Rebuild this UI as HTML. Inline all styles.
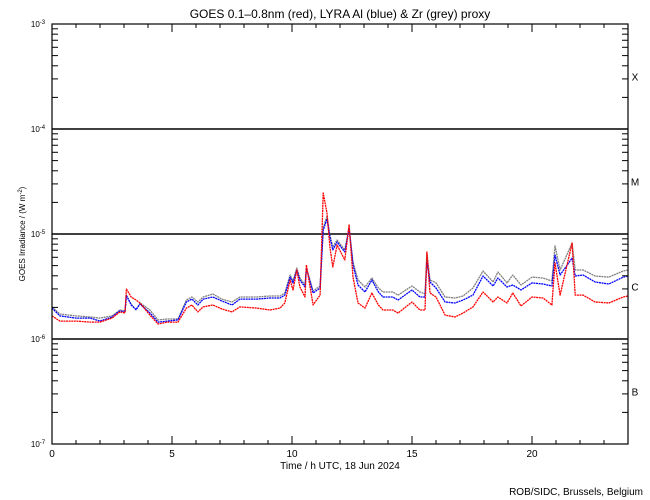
<!DOCTYPE html>
<html><head><meta charset="utf-8"><style>
body{margin:0;background:#fff;}
svg{display:block;font-family:"Liberation Sans",sans-serif;}
</style></head><body>
<svg id="chart" width="650" height="500" viewBox="0 0 650 500" xmlns="http://www.w3.org/2000/svg">
<rect width="650" height="500" fill="#fff"/>
<text x="340" y="18" text-anchor="middle" font-size="12">GOES 0.1–0.8nm (red), LYRA Al (blue) &amp; Zr (grey) proxy</text>
<g id="grid"></g>
<g id="series"></g>
<g id="axes"></g>
<text transform="translate(25,234) rotate(-90)" text-anchor="middle" font-size="8">GOES Irradiance / (W m<tspan dy="-3" font-size="6">-2</tspan><tspan dy="3">)</tspan></text>
<text x="340" y="469" text-anchor="middle" font-size="10">Time / h UTC, 18 Jun 2024</text>
<text x="643" y="495" text-anchor="end" font-size="10">ROB/SIDC, Brussels, Belgium</text>
</svg>
<script>
const hours = [0,0.33,1,1.6,2,2.5,2.83,3.04,3.1,3.3,3.5,3.67,4.08,4.42,4.8,5.25,5.6,5.83,6.08,6.3,6.7,7.08,7.5,7.83,8.54,9.08,9.5,9.7,9.92,10.04,10.2,10.33,10.54,10.6,10.88,11.17,11.3,11.46,11.58,11.7,11.88,12.2,12.38,12.54,12.75,13.04,13.33,13.6,13.79,14.2,14.42,15,15.33,15.54,15.62,15.75,16,16.38,16.79,17.13,17.54,17.96,18.38,18.58,18.96,19.2,19.54,20,20.46,20.83,20.96,21.17,21.67,21.8,22.13,22.63,23.2,23.8,24];
// flux in units of 1e-6 W/m^2
const goesRed = [1.66,1.48,1.48,1.45,1.45,1.58,1.81,1.77,2.99,2.51,2.35,2.20,1.69,1.39,1.45,1.45,1.97,2.11,1.81,2.02,2.11,1.93,1.81,2.02,1.97,1.89,1.97,2.20,3.65,2.93,4.54,3.13,2.51,5.07,2.11,2.62,24.6,15.8,7.52,4.85,7.86,5.65,12.2,3.89,2.20,1.97,2.74,2.11,1.89,1.89,1.77,2.25,1.89,1.89,6.74,2.74,2.51,1.69,1.62,1.77,2.02,2.80,2.25,2.51,2.20,2.74,2.06,2.51,2.46,2.11,5.29,2.62,8.21,2.62,2.62,2.25,2.20,2.51,2.57];
const lyraAl = [1.97,1.66,1.58,1.58,1.48,1.62,1.85,1.81,2.6,2.11,1.9,2.15,1.77,1.45,1.48,1.52,2.25,2.40,2.11,2.40,2.51,2.30,2.11,2.40,2.40,2.46,2.46,2.62,3.89,3.42,4.54,3.65,3.13,4.74,2.74,3.06,10.9,13.9,9.37,7.05,8.4,6.74,11.4,5.07,3.27,2.80,3.65,2.80,2.51,2.51,2.35,2.93,2.51,2.51,5.41,3.49,3.06,2.25,2.20,2.35,2.62,3.98,3.20,3.81,3.13,3.27,2.93,3.42,3.34,3.20,6.31,4.07,5.9,3.98,4.07,3.49,3.34,3.89,3.98];
const lyraZr = [2.02,1.73,1.66,1.62,1.58,1.66,1.89,1.85,2.6,2.15,1.9,2.20,1.89,1.52,1.55,1.55,2.35,2.51,2.25,2.51,2.68,2.40,2.25,2.51,2.51,2.57,2.57,2.74,4.07,3.57,4.74,3.81,3.27,4.74,2.87,3.20,11.4,14.8,9.8,7.52,8.77,7.05,11.4,5.41,3.65,3.13,3.81,3.06,2.80,2.80,2.62,3.20,2.80,2.68,6.60,3.65,3.42,2.51,2.46,2.57,3.06,4.44,3.49,4.35,3.42,4.07,3.27,3.89,3.81,3.57,7.7,4.54,8.21,4.54,4.54,3.98,3.89,4.44,4.54];
const xTickLabels = ["0","5","10","15","20"];
const yDecades = [-3,-4,-5,-6,-7];
const classLabels = ["X","M","C","B"];

const NS = "http://www.w3.org/2000/svg";
const X0 = 52, X1 = 628, Y0 = 24, Y1 = 444;
const xs = h => X0 + (h / 24) * (X1 - X0);
const ys = f => Y0 + (-3 - Math.log10(f)) * (Y1 - Y0) / 4;
function mk(tag, attrs, parent) { const e = document.createElementNS(NS, tag); for (const k in attrs) e.setAttribute(k, attrs[k]); parent.appendChild(e); return e; }

const grid = document.getElementById('grid');
[1e-4, 1e-5, 1e-6].forEach(f => {
  const l = mk('line', {x1: X0, x2: X1, y1: ys(f), y2: ys(f), stroke: '#000', 'stroke-width': 1.5}, grid);
  
  
});

const sg = document.getElementById('series');
[[lyraZr, '#808080', 'lyra-zr-series'], [lyraAl, '#0000ff', 'lyra-al-series'], [goesRed, '#ff0000', 'goes-red-series']].forEach(([vals, col, nm]) => {
  const pts = hours.map((h, i) => xs(h).toFixed(1) + ',' + ys(vals[i] * 1e-6).toFixed(1)).join(' ');
  const p = mk('polyline', {points: pts, fill: 'none', stroke: col, 'stroke-width': 1.3, 'stroke-linejoin': 'round', 'stroke-dasharray': '2 0.6'}, sg);
  
  
});

const ax = document.getElementById('axes');
const frame = mk('rect', {x: X0, y: Y0, width: X1 - X0, height: Y1 - Y0, fill: 'none', stroke: '#000', 'stroke-width': 1.2}, ax);


for (let h = 0; h <= 24; h++) {
  const len = h % 5 === 0 ? 8 : 4;
  mk('line', {x1: xs(h), x2: xs(h), y1: Y1, y2: Y1 - len, stroke: '#000', 'stroke-width': 1}, ax);
  mk('line', {x1: xs(h), x2: xs(h), y1: Y0, y2: Y0 + len, stroke: '#000', 'stroke-width': 1}, ax);
}
xTickLabels.forEach(s => {
  const t = mk('text', {x: xs(+s), y: 457, 'text-anchor': 'middle', 'font-size': 10}, ax);
  t.textContent = s;
  
  
});
yDecades.forEach(d => {
  const y = ys(Math.pow(10, d));
  const t = mk('text', {x: 38, y: y + 3, 'text-anchor': 'middle', 'font-size': 8}, ax);
  t.textContent = '10';
  const sp = mk('tspan', {dy: -3, 'font-size': 6}, t);
  sp.textContent = String(d);
  
  
  if (d > -7) for (let m = 2; m <= 9; m++) {
    const yy = ys(m * Math.pow(10, d - 1));
    mk('line', {x1: X0, x2: X0 + 6, y1: yy, y2: yy, stroke: '#000', 'stroke-width': 1}, ax);
    mk('line', {x1: X1, x2: X1 - 6, y1: yy, y2: yy, stroke: '#000', 'stroke-width': 1}, ax);
  }
});
classLabels.forEach((c, i) => {
  const y = ys(Math.pow(10, -3.5 - i));
  const t = mk('text', {x: 635, y: y + 4, 'text-anchor': 'middle', 'font-size': 10}, ax);
  t.textContent = c;
  
  
});
</script>
</body></html>
